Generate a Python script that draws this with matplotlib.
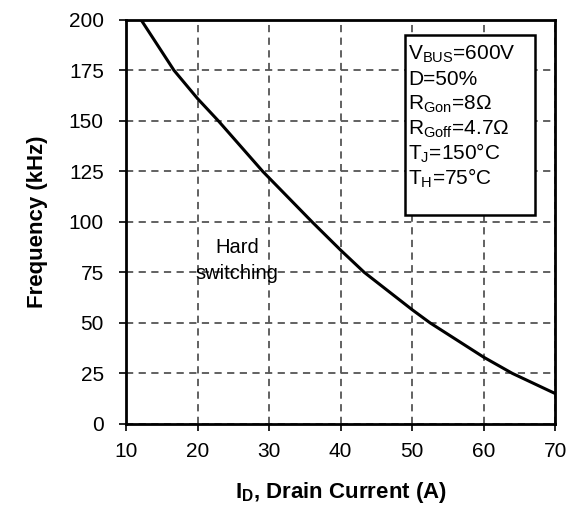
import matplotlib
matplotlib.use("Agg")
import matplotlib.pyplot as plt
from matplotlib.patches import Rectangle

plt.rcParams['font.family'] = ['Liberation Sans', 'DejaVu Sans']
plt.rcParams['mathtext.fontset'] = 'custom'
plt.rcParams['mathtext.rm'] = 'Liberation Sans'
plt.rcParams['mathtext.bf'] = 'Liberation Sans:bold'

# curve
drain_current = [12.1, 16.7, 20, 22.9, 29.1, 36, 40, 43.3, 50, 52.5, 60, 64, 70]
frequency = [200, 175, 161, 150, 125, 100, 86, 75, 56.5, 50, 33, 25, 15]

x_ticks = [10, 20, 30, 40, 50, 60, 70]
y_ticks = [0, 25, 50, 75, 100, 125, 150, 175, 200]

conditions = [
    r'V$_{\mathrm{BUS}}$=600V',
    'D=50%',
    r'R$_{\mathrm{Gon}}$=8$\Omega$',
    r'R$_{\mathrm{Goff}}$=4.7$\Omega$',
    r'T$_{\mathrm{J}}$=150°C',
    r'T$_{\mathrm{H}}$=75°C',
]

fig = plt.figure(figsize=(5.73, 5.22), dpi=100)
ax = fig.add_axes([0.22, 0.188, 0.749, 0.774])

ax.plot(drain_current, frequency, color='black', linewidth=2.2, zorder=3)

ax.set_xlim(10, 70)
ax.set_ylim(0, 200)
ax.set_xticks(x_ticks)
ax.set_yticks(y_ticks)
ax.tick_params(labelsize=15, length=5, width=1.2)
ax.tick_params(axis='y', pad=11)
ax.tick_params(axis='x', pad=8)

ax.grid(True, color='#555555', linestyle=(0, (4, 3)), linewidth=1.3)
for s in ax.spines.values():
    s.set_linewidth(2)

ax.set_xlabel(r'I$_{\mathbf{D}}$, Drain Current (A)', fontsize=16, fontweight='bold', labelpad=14)
ax.set_ylabel('Frequency (kHz)', fontsize=16, fontweight='bold', labelpad=15)

ax.text(25.5, 81, 'Hard\nswitching', ha='center', va='center', fontsize=14.5,
        linespacing=1.45, zorder=4)

# conditions box
box = Rectangle((49.0, 103.5), 18.2, 89, facecolor='white', edgecolor='black',
                linewidth=1.8, zorder=4)
ax.add_patch(box)
for i, line in enumerate(conditions):
    ax.text(49.4, 183 - i * 12.3, line, ha='left', va='center', fontsize=15, zorder=5)

plt.savefig('out.png', dpi=100, facecolor='white')
